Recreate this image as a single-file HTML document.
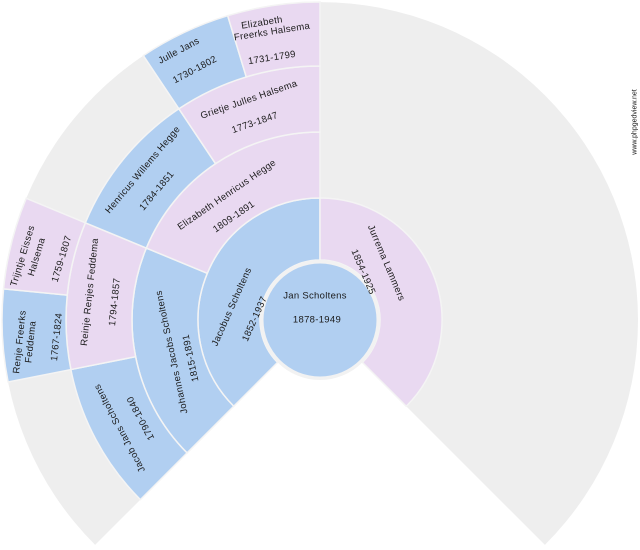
<!DOCTYPE html>
<html><head><meta charset="utf-8"><style>
html,body{margin:0;padding:0;background:#fff;width:640px;height:550px;overflow:hidden}
svg{display:block}
text{font-family:"Liberation Sans",sans-serif;font-size:9.5px;letter-spacing:0.3px;fill:#1a1a1a;text-anchor:middle;dominant-baseline:central}
</style></head><body>
<svg width="640" height="550" viewBox="0 0 640 550" xmlns="http://www.w3.org/2000/svg">
<path d="M320,320 L95.1,544.9 A318,318 0 1 1 544.9,544.9 Z" fill="#eeeeee"/>
<g stroke="#f4f4f4" stroke-width="1.5">
<path transform="rotate(225 320 320)" fill="#b1cff1" d="M320,198 A122,122 0 0 1 406.27,406.27 L362.43,362.43 A60,60 0 0 0 320,260 Z"/>
<path transform="rotate(0 320 320)" fill="#e9d9f1" d="M320,198 A122,122 0 0 1 406.27,406.27 L362.43,362.43 A60,60 0 0 0 320,260 Z"/>
<path transform="rotate(225 320 320)" fill="#b1cff1" d="M320,132 A188,188 0 0 1 493.69,248.05 L432.72,273.31 A122,122 0 0 0 320,198 Z"/>
<path transform="rotate(292.5 320 320)" fill="#e9d9f1" d="M320,132 A188,188 0 0 1 493.69,248.05 L432.72,273.31 A122,122 0 0 0 320,198 Z"/>
<path transform="rotate(225 320 320)" fill="#b1cff1" d="M320,66 A254,254 0 0 1 461.12,108.80 L424.45,163.68 A188,188 0 0 0 320,132 Z"/>
<path transform="rotate(258.75 320 320)" fill="#e9d9f1" d="M320,66 A254,254 0 0 1 461.12,108.80 L424.45,163.68 A188,188 0 0 0 320,132 Z"/>
<path transform="rotate(292.5 320 320)" fill="#b1cff1" d="M320,66 A254,254 0 0 1 461.12,108.80 L424.45,163.68 A188,188 0 0 0 320,132 Z"/>
<path transform="rotate(326.25 320 320)" fill="#e9d9f1" d="M320,66 A254,254 0 0 1 461.12,108.80 L424.45,163.68 A188,188 0 0 0 320,132 Z"/>
<path transform="rotate(258.75 320 320)" fill="#b1cff1" d="M320,2 A318,318 0 0 1 412.32,15.71 L393.74,76.95 A254,254 0 0 0 320,66 Z"/>
<path transform="rotate(275.625 320 320)" fill="#e9d9f1" d="M320,2 A318,318 0 0 1 412.32,15.71 L393.74,76.95 A254,254 0 0 0 320,66 Z"/>
<path transform="rotate(326.25 320 320)" fill="#b1cff1" d="M320,2 A318,318 0 0 1 412.32,15.71 L393.74,76.95 A254,254 0 0 0 320,66 Z"/>
<path transform="rotate(343.125 320 320)" fill="#e9d9f1" d="M320,2 A318,318 0 0 1 412.32,15.71 L393.74,76.95 A254,254 0 0 0 320,66 Z"/>
</g>
<circle cx="320" cy="320" r="60" fill="#f2f2f2"/>
<circle cx="320" cy="320" r="56.5" fill="#b1cff1"/>

<text x="315" y="296">Jan Scholtens</text>
<text x="317" y="320">1878-1949</text>

<text transform="translate(232 307) rotate(-66)">Jacobus Scholtens</text>
<text transform="translate(255 319) rotate(-66)">1852-1937</text>
<text transform="translate(386 263) rotate(67)">Jurrema Lammers</text>
<text transform="translate(363 272) rotate(67)">1854-1925</text>

<text transform="translate(172 352) rotate(-102)">Johannes Jacobs Scholtens</text>
<text transform="translate(191 358) rotate(-102)">1815-1891</text>
<text transform="translate(227 195) rotate(-34.5)">Elizabeth Henricus Hegge</text>
<text transform="translate(234 217) rotate(-34.5)">1809-1891</text>

<text transform="translate(120 428) rotate(-118)">Jacob Jans Scholtens</text>
<text transform="translate(141 418) rotate(-118)">1790-1840</text>
<text transform="translate(90 292) rotate(-84)">Reinje Renjes Feddema</text>
<text transform="translate(115 302) rotate(-84)">1794-1857</text>
<text transform="translate(143 170) rotate(-50)">Henricus Willems Hegge</text>
<text transform="translate(157 191) rotate(-50)">1784-1851</text>
<text transform="translate(249 100) rotate(-19)">Grietje Julles Halsema</text>
<text transform="translate(255 123) rotate(-19)">1773-1847</text>

<text transform="translate(20 342) rotate(-84)">Renje Freerks</text>
<text transform="translate(31 342) rotate(-84)">Feddema</text>
<text transform="translate(57 337) rotate(-84)">1767-1824</text>
<text transform="translate(23 256) rotate(-73)">Trijntje Eisses</text>
<text transform="translate(37 257) rotate(-73)">Halsema</text>
<text transform="translate(62 259) rotate(-73)">1759-1807</text>
<text transform="translate(179 51) rotate(-28)">Julle Jans</text>
<text transform="translate(195 70) rotate(-28)">1730-1802</text>
<text transform="translate(262 23) rotate(-9)">Elizabeth</text>
<text transform="translate(272 32) rotate(-9)">Freerks Halsema</text>
<text transform="translate(272 58) rotate(-9)">1731-1799</text>

<text transform="translate(635 122) rotate(-90)" style="font-size:7px;letter-spacing:0">www.phpgedview.net</text>
</svg>
</body></html>
